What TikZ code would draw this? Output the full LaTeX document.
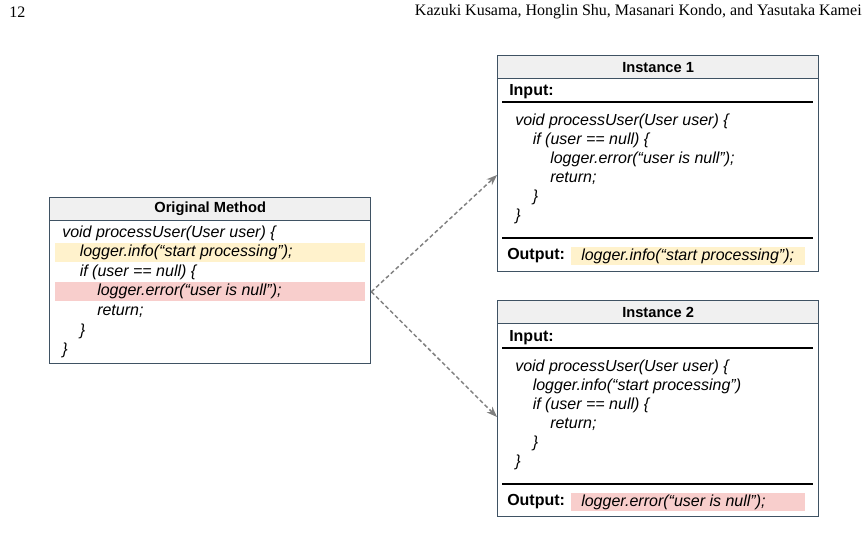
\documentclass[tikz,border=0pt]{standalone}
\usepackage{fontspec}
\setmainfont{Liberation Sans}
\newfontfamily\runfont{Liberation Serif}
\usetikzlibrary{arrows.meta,calc,positioning}
\definecolor{frame}{HTML}{3F5263}
\definecolor{headgray}{HTML}{F0F0F0}
\definecolor{infoyellow}{HTML}{FFF2CC}
\definecolor{errorred}{HTML}{F8CECC}
\definecolor{linkgray}{HTML}{808080}
\tikzset{>=Stealth,
  every node/.style={inner sep=0pt},
  runhead/.style={font=\runfont\fontsize{12}{14}\selectfont},
  panel/.style={draw=frame,line width=1pt,anchor=north west,minimum width=321*.75pt},
  titlebar/.style={panel,fill=headgray,minimum height=23*.75pt,font=\fontsize{11}{13}\selectfont\bfseries},
  codeline/.style={anchor=west,font=\fontsize{12}{14}\selectfont\itshape},
  fieldtag/.style={anchor=west,font=\fontsize{12}{14}\selectfont\bfseries},
  rowmark/.style={fill=#1,anchor=west,minimum height=19*.75pt},
  divider/.style={draw=black,line width=.9pt},
  link/.style={->,draw=linkgray,line width=1.1pt,dash pattern=on 3pt off 2pt}}

\begin{document}
\begin{tikzpicture}[x=.75pt,y=-.75pt]
\useasboundingbox (0,0) rectangle (868,546);
\node[runhead,anchor=west] (pageno) at (9,12) {12};
\node[runhead,anchor=east] (authors) at (862,12) {Kazuki Kusama, Honglin Shu, Masanari Kondo, and Yasutaka Kamei};
% original method
\node[panel,minimum height=166*.75pt] (orig) at (49,197) {};
\node[titlebar] (origtitle) at (49,197) {Original Method};
\node[rowmark=infoyellow,minimum width=310*.75pt] (originfo) at (55,252.6) {};
\node[rowmark=errorred,minimum width=310*.75pt] (origerr) at (55,291.8) {};
\foreach \ind/\txt [count=\k from 0] in {0/{void processUser(User user) \{},1/{logger.info(“start processing”);},1/{if (user == null) \{},2/{logger.error(“user is null”);},2/{return;},1/\},0/\}}
  \node[codeline] (orig-\k) at (62+17.5*\ind,233+19.6*\k) {\txt};
% instance 1
\node[panel,minimum height=216*.75pt] (inst1) at (497,55) {};
\node[titlebar] (inst1title) at (497,55) {Instance 1};
\node[fieldtag] (inst1in) at (509,92) {Input:};
\draw[divider] (502,102) -- (813,102);
\foreach \ind/\txt [count=\k from 0] in {0/{void processUser(User user) \{},1/{if (user == null) \{},2/{logger.error(“user is null”);},2/{return;},1/\},0/\}}
  \node[codeline] (inst1-\k) at (515+17.5*\ind,121+19*\k) {\txt};
\draw[divider] (502,238) -- (813,238);
\node[fieldtag] (inst1out) at (507,256) {Output:};
\node[rowmark=infoyellow,minimum width=234*.75pt,minimum height=18*.75pt] (inst1mark) at (571,256) {};
\node[codeline] (inst1res) at (581,256) {logger.info(“start processing”);};
% instance 2
\node[panel,minimum height=216*.75pt] (inst2) at (497,300) {};
\node[titlebar] (inst2title) at (497,300) {Instance 2};
\node[fieldtag] (inst2in) at (509,338) {Input:};
\draw[divider] (502,348) -- (813,348);
\foreach \ind/\txt [count=\k from 0] in {0/{void processUser(User user) \{},1/{logger.info(“start processing”)},1/{if (user == null) \{},2/{return;},1/\},0/\}}
  \node[codeline] (inst2-\k) at (515+17.5*\ind,367+19*\k) {\txt};
\draw[divider] (502,484) -- (813,484);
\node[fieldtag] (inst2out) at (507,502) {Output:};
\node[rowmark=errorred,minimum width=234*.75pt,minimum height=18*.75pt] (inst2mark) at (571,502) {};
\node[codeline] (inst2res) at (581,502) {logger.error(“user is null”);};
% connectors
\coordinate (fork) at (orig.east |- origerr.center);
\coordinate (tip1) at ($(inst1.north west)+(0,120)$);
\coordinate (tip2) at ($(inst2.north west)+(0,117)$);
\draw[link] (fork) -- (tip1);
\draw[link] (fork) -- (tip2);
\end{tikzpicture}
\end{document}
